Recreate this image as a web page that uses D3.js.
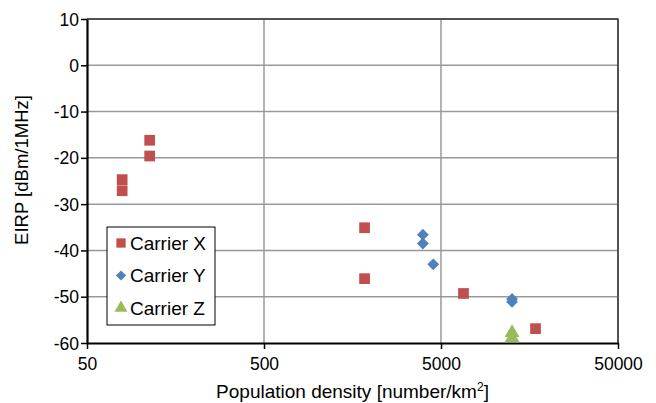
<!DOCTYPE html>
<html>
<head>
<meta charset="utf-8">
<script src="https://cdn.jsdelivr.net/npm/d3@7"></script>
<style>
  body { margin: 0; background: #fff; }
  text { font-family: "Liberation Sans", Arial, sans-serif; fill: #000; }
</style>
</head>
<body>
<script>
// data
var seriesNames = ["Carrier X", "Carrier Y", "Carrier Z"];
var carrierX = [[79, -24.7], [79, -27.1], [113, -16.2], [113, -19.6], [1850, -35.1], [1850, -46.1], [6700, -49.3], [17100, -56.9]];
var carrierY = [[3950, -36.6], [3950, -38.5], [4520, -43.0], [12600, -50.5], [12600, -51.1]];
var carrierZ = [[12600, -57.8], [12600, -58.9]];
var xTicks = [50, 500, 5000, 50000];
var yTicks = [-60, -50, -40, -30, -20, -10, 0, 10];

var width = 656, height = 403;
var margin = {left: 87, right: 38, top: 19, bottom: 60};
var colors = ["#C0504D", "#4F81BD", "#9BBB59"];

// marker shapes: square, diamond (rotated square), triangle
var square = d3.symbol().type(d3.symbolSquare);
var tri = d3.symbol().type(d3.symbolTriangle);
function marker(i, s) {
  if (i === 0) return square.size(115 * s)();
  if (i === 1) return square.size(70 * s)();
  return tri.size(95 * s)();
}
function markerRot(i) { return i === 1 ? ' rotate(45)' : ''; }

var hyphen = function(d) { return String(d); }; // keep plain hyphen-minus

var svg = d3.select('body').append('svg')
  .attr('width', width)
  .attr('height', height);

var x = d3.scaleLog().domain([50, 50000]).range([margin.left, width - margin.right]);
var y = d3.scaleLinear().domain([-60, 10]).range([height - margin.bottom, margin.top]);

// grid
svg.append('g').selectAll('line.gy')
  .data(yTicks.slice(1))
  .enter().append('line')
  .attr('x1', x(50)).attr('x2', x(50000))
  .attr('y1', function(d) { return y(d); }).attr('y2', function(d) { return y(d); })
  .attr('stroke', '#999').attr('stroke-width', 1.5);
svg.append('g').selectAll('line.gx')
  .data(xTicks.slice(1))
  .enter().append('line')
  .attr('x1', function(d) { return x(d); }).attr('x2', function(d) { return x(d); })
  .attr('y1', y(-60)).attr('y2', y(10))
  .attr('stroke', '#999').attr('stroke-width', 1.5);

// top/right border
svg.append('path')
  .attr('d', 'M' + x(50) + ',' + y(10) + 'H' + x(50000) + 'V' + y(-60))
  .attr('fill', 'none').attr('stroke', '#333').attr('stroke-width', 1.5);

// axes
var xAxis = svg.append('g')
  .attr('transform', 'translate(0,' + y(-60) + ')')
  .call(d3.axisBottom(x).tickValues(xTicks).tickFormat(hyphen).tickSize(6).tickSizeOuter(0));
var yAxis = svg.append('g')
  .attr('transform', 'translate(' + x(50) + ',0)')
  .call(d3.axisLeft(y).tickValues(yTicks).tickFormat(hyphen).tickSize(6).tickSizeOuter(0));

[xAxis, yAxis].forEach(function(a) {
  a.select('.domain').attr('stroke', '#000').attr('stroke-width', 2.2);
  a.selectAll('.tick line').attr('stroke', '#000').attr('stroke-width', 1.5);
  a.selectAll('.tick text').style('font-size', '17.5px').attr('fill', '#000');
});
xAxis.selectAll('.tick text').attr('dy', '1.05em');
yAxis.selectAll('.tick text').attr('x', -8).attr('dy', '0.35em');

// axis titles
var xt = svg.append('text')
  .attr('x', (x(50) + x(50000)) / 2)
  .attr('y', 398)
  .attr('text-anchor', 'middle')
  .style('font-size', '19px')
  .text('Population density [number/km');
xt.append('tspan').attr('dy', -7).style('font-size', '12px').text('2');
xt.append('tspan').attr('dy', 7).text(']');

svg.append('text')
  .attr('transform', 'translate(28,170) rotate(-90)')
  .attr('text-anchor', 'middle')
  .style('font-size', '18.5px')
  .text('EIRP [dBm/1MHz]');

// points
var allSeries = [carrierX, carrierY, carrierZ];
allSeries.forEach(function(data, i) {
  svg.append('g').selectAll('path')
    .data(data)
    .enter().append('path')
    .attr('d', marker(i, 1))
    .attr('transform', function(d) { return 'translate(' + x(d[0]) + ',' + y(d[1]) + ')' + markerRot(i); })
    .attr('fill', colors[i]);
});

// legend
var legend = svg.append('g').attr('transform', 'translate(107,227)');
legend.append('rect')
  .attr('width', 108).attr('height', 98)
  .attr('fill', '#fff').attr('stroke', '#000').attr('stroke-width', 1);
var item = legend.selectAll('g.item')
  .data(seriesNames)
  .enter().append('g')
  .attr('transform', function(d, i) { return 'translate(0,' + (16 + i * 32.5) + ')'; });
item.append('path')
  .attr('d', function(d, i) { return marker(i, 0.75); })
  .attr('transform', function(d, i) { return 'translate(14,0)' + markerRot(i); })
  .attr('fill', function(d, i) { return colors[i]; });
item.append('text')
  .attr('x', 23).attr('dy', '0.35em')
  .style('font-size', '19px')
  .text(function(d) { return d; });
</script>
</body>
</html>
